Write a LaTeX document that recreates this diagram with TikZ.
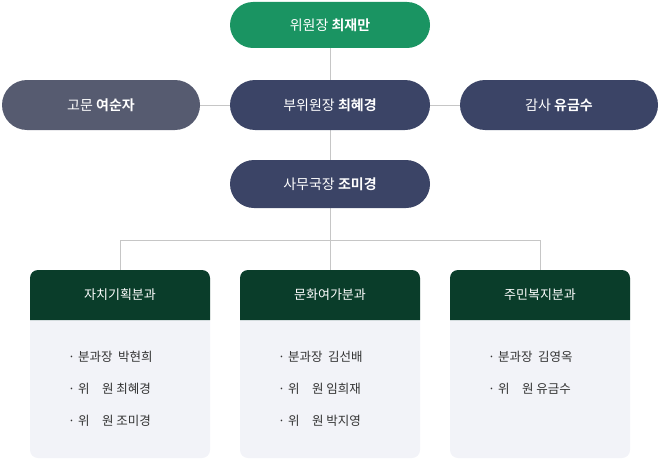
\documentclass[tikz,border=0pt]{standalone}
\usepackage{fontspec}
\setmainfont{Noto Sans CJK KR}[BoldFont={* Bold}]
\begin{document}
\begin{tikzpicture}[x=1pt,y=-1pt,
  pill/.style={rounded corners=23pt,text=white,font=\fontsize{14}{16}\selectfont,inner sep=0},
  ln/.style={draw=gray!45,line width=0.8pt},
  item/.style={anchor=west,font=\fontsize{12.5}{14}\selectfont,text=black!80,inner sep=0}]
\definecolor{grn}{HTML}{1A9462}\definecolor{navy}{HTML}{3B4466}\definecolor{gry}{HTML}{565B70}
\definecolor{dg}{HTML}{0A3D2A}\definecolor{bg}{HTML}{F2F3F8}
\useasboundingbox (0,0) rectangle (660,460);
\draw[ln] (330,48) -- (330,240);
\draw[ln] (200,105) -- (460,105);
\draw[ln] (120,270) -- (120,240) -- (540,240) -- (540,270);
\draw[ln] (330,240) -- (330,270);
\fill[grn,rounded corners=23pt] (230,2) rectangle (430,48);
\node[pill] (chair) at (330,25) {위원장 \textbf{최재만}};
\fill[gry,rounded corners=25pt] (2,80) rectangle (200,130);
\node[pill] (adv) at (101,105) {고문 \textbf{여순자}};
\fill[navy,rounded corners=25pt] (230,80) rectangle (430,130);
\node[pill] (vice) at (330,105) {부위원장 \textbf{최혜경}};
\fill[navy,rounded corners=25pt] (460,80) rectangle (658,130);
\node[pill] (aud) at (559,105) {감사 \textbf{유금수}};
\fill[navy,rounded corners=24pt] (230,160) rectangle (430,208);
\node[pill] (sec) at (330,184) {사무국장 \textbf{조미경}};
\foreach \x/\t/\a/\b/\c in {30/자치기획분과/{분과장\ \ 박현희}/{위\quad 원\ 최혜경}/{위\quad 원\ 조미경},
  240/문화여가분과/{분과장\ \ 김선배}/{위\quad 원\ 임희재}/{위\quad 원\ 박지영},
  450/주민복지분과/{분과장\ \ 김영옥}/{위\quad 원\ 유금수}/{}}{
  \fill[bg,rounded corners=8pt] (\x,270) rectangle (\x+180,458);
  \fill[dg] (\x,320) -- (\x,278) arc[start angle=180,end angle=270,radius=8] -- (\x+172,270) arc[start angle=270,end angle=360,radius=8] -- (\x+180,320) -- cycle;
  \node[text=white,font=\fontsize{13}{15}\selectfont] at (\x+90,295) {\t};
  \node[item] at (\x+38,357) {· \a};
  \node[item] at (\x+38,389) {· \b};
  \ifx\c\empty\else\node[item] at (\x+38,421) {· \c};\fi
}
\end{tikzpicture}
\end{document}
